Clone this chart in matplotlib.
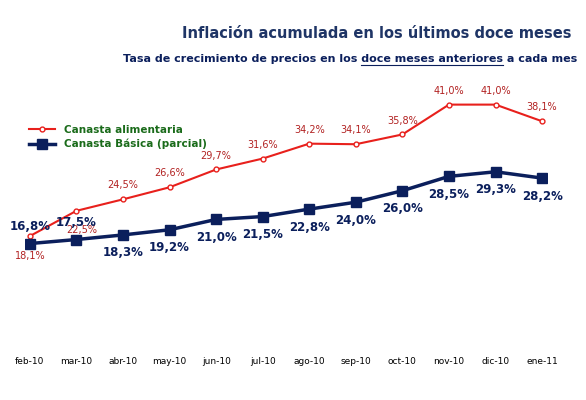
import matplotlib
matplotlib.use("Agg")
import matplotlib.pyplot as plt

months = ["feb-10","mar-10","abr-10","may-10","jun-10","jul-10","ago-10","sep-10","oct-10","nov-10","dic-10","ene-11"]
alimentaria = [18.1,22.5,24.5,26.6,29.7,31.6,34.2,34.1,35.8,41.0,41.0,38.1]
basica = [16.8,17.5,18.3,19.2,21.0,21.5,22.8,24.0,26.0,28.5,29.3,28.2]

fig = plt.figure(figsize=(5.86,4.0), dpi=100)
ax = fig.add_axes([0.043, 0.15, 0.89, 0.61])
x = list(range(len(months)))
red = "#e8201c"; navy = "#0b1f5c"
ax.plot(x, alimentaria, color=red, lw=1.5, marker="o", ms=3.5, mfc="white", mec=red, label="Canasta alimentaria")
ax.plot(x, basica, color=navy, lw=2.5, marker="s", ms=7, label="Canasta Básica (parcial)")
for i, v in enumerate(alimentaria):
    dy = -14 if i == 0 else (-14 if i == 1 else 10)
    dx = 4 if i == 1 else 0
    ax.annotate(f"{v:.1f}%".replace(".", ","), (i, v), textcoords="offset points", xytext=(dx, dy),
                ha="center", va="center", fontsize=7, color="#b22222")
for i, v in enumerate(basica):
    dy = 12 if i < 2 else -13
    ax.annotate(f"{v:.1f}%".replace(".", ","), (i, v), textcoords="offset points", xytext=(0, dy),
                ha="center", va="center", fontsize=8.5, color=navy, fontweight="bold")
ax.set_xlim(-0.1, 11.1)
ax.set_ylim(0, 42.5)
ax.set_xticks(x)
ax.set_xticklabels(months, fontsize=6.5)
ax.set_yticks([])
ax.tick_params(axis="x", length=0, pad=12)
for s in ax.spines.values():
    s.set_visible(False)
leg = ax.legend(loc="upper left", bbox_to_anchor=(0.0, 0.9), frameon=False, fontsize=7.5, handlelength=2.5,
                labelspacing=0.4, borderaxespad=0)
for t in leg.get_texts():
    t.set_color("#1a6b1a"); t.set_fontweight("bold")

fig.text(0.975, 0.905, "Inflación acumulada en los últimos doce meses", ha="right", fontsize=10.5,
         color="#1f3566", fontweight="bold")
p1 = "Tasa de crecimiento de precios en los "
p2 = "doce meses anteriores"
p3 = " a cada mes"
t = fig.text(0.985, 0.845, p1 + p2 + p3, ha="right", fontsize=8, color="#0b1f5c", fontweight="bold")
fig.canvas.draw()
r = fig.canvas.get_renderer()
bb = t.get_window_extent(r)
def w(s):
    tt = fig.text(0, 0, s, fontsize=8, fontweight="bold"); e = tt.get_window_extent(r).width; tt.remove(); return e
x0 = bb.x0 + w(p1 + "d") - w("d")
x1 = x0 + w(p2)
W, H = fig.bbox.width, fig.bbox.height
fig.add_artist(plt.Line2D([x0/W, x1/W], [(bb.y0-1)/H]*2, color="#0b1f5c", lw=0.8))
fig.savefig("out.png", dpi=100)
